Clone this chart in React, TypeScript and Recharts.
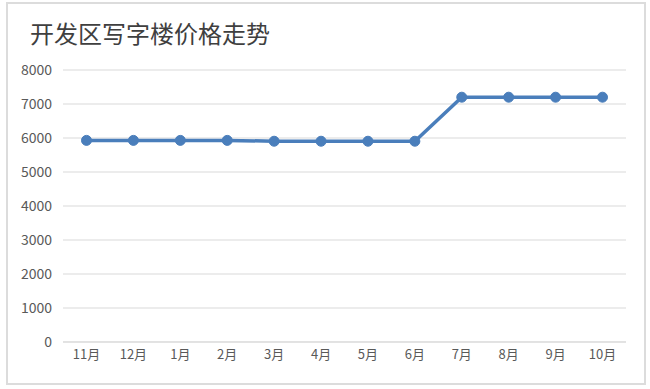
import { LineChart, Line, XAxis, YAxis, CartesianGrid } from 'recharts'

const months = ['11月', '12月', '1月', '2月', '3月', '4月', '5月', '6月', '7月', '8月', '9月', '10月']
const prices = [5930, 5930, 5930, 5930, 5905, 5905, 5905, 5905, 7200, 7200, 7200, 7200]
const yTicks = [0, 1000, 2000, 3000, 4000, 5000, 6000, 7000, 8000]

const data = months.map((m, i) => ({ month: m, price: prices[i] }))

const font = '"Noto Sans CJK SC", "Noto Sans", sans-serif'

export default function App() {
  return (
    <div style={{ position: 'absolute', left: 0, top: 0, width: 650, height: 389, background: '#fff', fontFamily: font }}>
      {/* outer frame */}
      <div style={{ position: 'absolute', left: 6, top: 2, width: 636, height: 379, border: '2px solid #dcdcdc' }} />
      <div style={{ position: 'absolute', left: 30, top: 18, fontSize: 24, color: '#3f3f3f', fontWeight: 400, lineHeight: '30px', whiteSpace: 'nowrap' }}>
        开发区写字楼价格走势
      </div>
      <div style={{ position: 'absolute', left: 0, top: 0 }}>
        <LineChart width={650} height={389} data={data} margin={{ top: 70, right: 24, bottom: 17, left: 0 }}>
          <CartesianGrid horizontal vertical={false} stroke="#d9d9d9" strokeWidth={1} />
          <XAxis
            dataKey="month"
            padding={{ left: 23.5, right: 23.5 }}
            tickLine={false}
            axisLine={{ stroke: '#d9d9d9' }}
            tick={{ fontSize: 13, fill: '#595959', fontFamily: font }}
            interval={0}
            height={30}
          />
          <YAxis
            domain={[0, 8000]}
            ticks={yTicks}
            width={63}
            tickLine={false}
            axisLine={false}
            tickMargin={5}
            tick={{ fontSize: 14, fill: '#595959', fontFamily: font }}
          />
          <Line
            type="linear"
            dataKey="price"
            stroke="#4a7ebb"
            strokeWidth={3.5}
            dot={{ r: 5, fill: '#4a7ebb', stroke: '#4a7ebb', strokeWidth: 1 }}
            isAnimationActive={false}
          />
        </LineChart>
      </div>
    </div>
  )
}
